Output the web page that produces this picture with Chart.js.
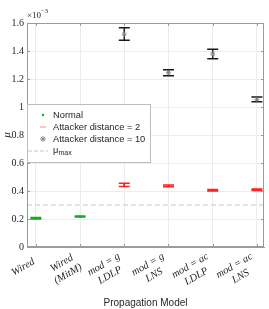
<!DOCTYPE html>
<html>
<head>
<meta charset="utf-8">
<script src="https://cdn.jsdelivr.net/npm/chart.js@4"></script>
<style>
html, body { margin: 0; padding: 0; background: #fff; }
</style>
</head>
<body>
<canvas id="mu-chart" width="269" height="309"></canvas>
<script>
'use strict';

// propagation models (x categories), one array per tick label
var MODELS = [['Wired'], ['Wired', '(MitM)'], ['mod = g', 'LDLP'], ['mod = g', 'LNS'], ['mod = ac', 'LDLP'], ['mod = ac', 'LNS']];
var Y_TICKS = [0, 0.2, 0.4, 0.6, 0.8, 1, 1.2, 1.4, 1.6];

// values in units of 1e-3
var NORMAL_MEAN = [0.205, 0.218, null, null, null, null];
var NORMAL_LOW = [0.200, 0.215, null, null, null, null];
var NORMAL_HIGH = [0.210, 0.221, null, null, null, null];

var ATT2_MEAN = [null, null, 0.443, 0.436, 0.405, 0.409];
var ATT2_LOW = [null, null, 0.432, 0.430, 0.400, 0.403];
var ATT2_HIGH = [null, null, 0.455, 0.442, 0.410, 0.415];

var ATT10_MEAN = [null, null, 1.52, 1.245, 1.379, 1.055];
var ATT10_LOW = [null, null, 1.476, 1.224, 1.345, 1.038];
var ATT10_HIGH = [null, null, 1.566, 1.266, 1.412, 1.071];

var MU_MAX = 0.3;

var AXIS_COLOR = '#9b9b9b';
var TEXT_COLOR = '#262626';
var SERIF = '"Liberation Serif", "Times New Roman", serif';
var SANS = '"Liberation Sans", Arial, sans-serif';

function toPoints(arr) {
	var pts = [];
	arr.forEach(function (v, i) {
		if (v !== null) pts.push({ x: i + 1, y: v });
	});
	return pts;
}

// dashed limit, box, inward ticks and error bars (under the markers)
var errorBars = {
	id: 'errorBars',
	beforeDatasetsDraw: function (chart) {
		var ctx = chart.ctx, xs = chart.scales.x, ys = chart.scales.y, a = chart.chartArea;
		ctx.save();

		// mu max
		var ym = ys.getPixelForValue(MU_MAX);
		ctx.strokeStyle = '#c4c4c4';
		ctx.lineWidth = 1;
		ctx.setLineDash([5, 3]);
		ctx.beginPath();
		ctx.moveTo(a.left, ym);
		ctx.lineTo(a.right, ym);
		ctx.stroke();
		ctx.setLineDash([]);

		// axes box + inward ticks
		ctx.strokeStyle = AXIS_COLOR;
		ctx.strokeRect(a.left + 0.5, a.top + 0.5, a.right - a.left - 1, a.bottom - a.top - 1);
		ctx.beginPath();
		ys.ticks.forEach(function (t) {
			var p = Math.round(ys.getPixelForValue(t.value)) + 0.5;
			ctx.moveTo(a.left, p); ctx.lineTo(a.left + 3, p);
			ctx.moveTo(a.right, p); ctx.lineTo(a.right - 3, p);
		});
		xs.ticks.forEach(function (t) {
			var p = Math.round(xs.getPixelForValue(t.value)) + 0.5;
			ctx.moveTo(p, a.top); ctx.lineTo(p, a.top + 3);
			ctx.moveTo(p, a.bottom); ctx.lineTo(p, a.bottom - 3);
		});
		ctx.stroke();

		// error bars
		chart.data.datasets.forEach(function (ds) {
			ctx.strokeStyle = ds.barColor;
			ctx.lineWidth = 1.5;
			ds.low.forEach(function (lo, i) {
				if (lo === null) return;
				var x = xs.getPixelForValue(i + 1);
				var y0 = ys.getPixelForValue(lo);
				var y1 = ys.getPixelForValue(ds.high[i]);
				var w = 5.5;
				ctx.beginPath();
				ctx.moveTo(x, y0); ctx.lineTo(x, y1);
				ctx.moveTo(x - w, y0); ctx.lineTo(x + w, y0);
				ctx.moveTo(x - w, y1); ctx.lineTo(x + w, y1);
				ctx.stroke();
			});
		});
		ctx.restore();
	}
};

// rotated two-line x labels, lines centred in the block
var xLabels = {
	id: 'xLabels',
	afterDraw: function (chart) {
		var ctx = chart.ctx, xs = chart.scales.x, a = chart.chartArea;
		ctx.save();
		ctx.fillStyle = TEXT_COLOR;
		ctx.font = 'italic 10.5px ' + SERIF;
		ctx.textAlign = 'center';
		ctx.textBaseline = 'middle';
		var lh = 12.5;
		xs.ticks.forEach(function (t) {
			var lines = MODELS[Math.round(t.value) - 1];
			var w = Math.max.apply(null, lines.map(function (s) { return ctx.measureText(s).width; }));
			ctx.save();
			ctx.translate(xs.getPixelForValue(t.value) - 2, a.bottom + 14);
			ctx.rotate(-Math.PI / 6);
			lines.forEach(function (s, k) {
				ctx.fillText(s, -w / 2, (k - (lines.length - 1) / 2) * lh);
			});
			ctx.restore();
		});
		ctx.restore();
	}
};

// legend box inside the plot + exponent label
var boxLegend = {
	id: 'boxLegend',
	afterDraw: function (chart) {
		var ctx = chart.ctx, a = chart.chartArea;
		var lx = a.left, ly = a.top + 81, lw = 124, lh = 59;
		ctx.save();
		ctx.fillStyle = '#fff';
		ctx.fillRect(lx, ly, lw, lh);
		ctx.strokeStyle = '#bdbdbd';
		ctx.lineWidth = 1;
		ctx.strokeRect(lx + 0.5, ly + 0.5, lw - 1, lh - 1);

		var sx = lx + 16, tx = lx + 26;
		var rows = [ly + 11, ly + 23, ly + 35, ly + 47];
		var ds = chart.data.datasets;

		// Normal: dot
		ctx.fillStyle = ds[0].backgroundColor;
		ctx.beginPath(); ctx.arc(sx, rows[0], 1.2, 0, Math.PI * 2); ctx.fill();
		// Attacker distance = 2: light line
		ctx.strokeStyle = '#ffb3b3';
		ctx.lineWidth = 1.5;
		ctx.beginPath(); ctx.moveTo(sx - 3, rows[1]); ctx.lineTo(sx + 3, rows[1]); ctx.stroke();
		// Attacker distance = 10: asterisk
		ctx.strokeStyle = ds[2].borderColor;
		ctx.lineWidth = 1;
		ctx.beginPath();
		for (var k = 0; k < 4; k++) {
			var ang = k * Math.PI / 4;
			ctx.moveTo(sx - 3 * Math.cos(ang), rows[2] - 3 * Math.sin(ang));
			ctx.lineTo(sx + 3 * Math.cos(ang), rows[2] + 3 * Math.sin(ang));
		}
		ctx.stroke();
		// mu max: dashed
		ctx.strokeStyle = '#c4c4c4';
		ctx.setLineDash([4, 2]);
		ctx.beginPath(); ctx.moveTo(lx + 1, rows[3]); ctx.lineTo(lx + 21, rows[3]); ctx.stroke();
		ctx.setLineDash([]);

		ctx.fillStyle = TEXT_COLOR;
		ctx.textBaseline = 'middle';
		ctx.font = '9.3px ' + SANS;
		ctx.fillText(ds[0].label, tx, rows[0]);
		ctx.fillText(ds[1].label, tx, rows[1]);
		ctx.fillText(ds[2].label, tx, rows[2]);
		ctx.fillText('\u03bc', tx, rows[3] - 1);
		ctx.font = '7px ' + SANS;
		ctx.fillText('max', tx + 5.5, rows[3] + 2);

		// x10^-3
		ctx.font = '9px ' + SERIF;
		ctx.textBaseline = 'alphabetic';
		ctx.fillText('\u00d710', a.left, 18);
		ctx.font = '6.5px ' + SERIF;
		ctx.fillText('\u22123', a.left + 14, 13);
		ctx.restore();
	}
};

var ctx = document.getElementById('mu-chart').getContext('2d');
new Chart(ctx, {
	type: 'scatter',
	data: {
		datasets: [
			{
				label: 'Normal',
				data: toPoints(NORMAL_MEAN),
				low: NORMAL_LOW,
				high: NORMAL_HIGH,
				barColor: '#14ac14',
				backgroundColor: '#14ac14',
				borderColor: '#14ac14',
				pointStyle: 'circle',
				pointRadius: 1.2,
				borderWidth: 0
			},
			{
				label: 'Attacker distance = 2',
				data: toPoints(ATT2_MEAN),
				low: ATT2_LOW,
				high: ATT2_HIGH,
				barColor: '#ff2020',
				backgroundColor: '#ff2020',
				borderColor: '#ff2020',
				pointStyle: 'circle',
				pointRadius: 1,
				borderWidth: 0
			},
			{
				label: 'Attacker distance = 10',
				data: toPoints(ATT10_MEAN),
				low: ATT10_LOW,
				high: ATT10_HIGH,
				barColor: '#1a1a1a',
				backgroundColor: '#8a8a8a',
				borderColor: '#8a8a8a',
				pointStyle: 'star',
				pointRadius: 2.5,
				borderWidth: 1
			}
		]
	},
	options: {
		responsive: false,
		animation: false,
		layout: { padding: { top: 23, right: 5, bottom: 0, left: 0 } },
		plugins: {
			legend: { display: false },
			tooltip: { enabled: false }
		},
		scales: {
			x: {
				type: 'linear',
				min: 0.8,
				max: 6.16,
				afterBuildTicks: function (s) {
					s.ticks = MODELS.map(function (m, i) { return { value: i + 1 }; });
				},
				afterFit: function (s) {
					s.height = 62;
					s.paddingLeft = 0;
					s.paddingRight = 0;
				},
				grid: { color: '#ececec', drawTicks: false },
				border: { color: AXIS_COLOR },
				ticks: { display: false, autoSkip: false },
				title: {
					display: true,
					text: 'Propagation Model',
					color: TEXT_COLOR,
					font: { family: SANS, size: 10 },
					padding: { top: 0, bottom: 0 }
				}
			},
			y: {
				min: 0,
				max: 1.6,
				afterBuildTicks: function (s) {
					s.ticks = Y_TICKS.map(function (v) { return { value: v }; });
				},
				afterFit: function (s) {
					s.width = 27;
					s.paddingTop = 0;
					s.paddingBottom = 0;
				},
				grid: { color: '#ececec', drawTicks: false },
				border: { color: AXIS_COLOR },
				ticks: {
					padding: 3,
					color: TEXT_COLOR,
					font: { family: SERIF, size: 10 },
					callback: function (v) { return String(+v.toFixed(1)); }
				},
				title: {
					display: true,
					text: '\u03bc',
					color: TEXT_COLOR,
					font: { family: SERIF, style: 'italic', size: 11 },
					padding: { top: 1, bottom: 0 }
				}
			}
		}
	},
	plugins: [errorBars, xLabels, boxLegend]
});
</script>
</body>
</html>
